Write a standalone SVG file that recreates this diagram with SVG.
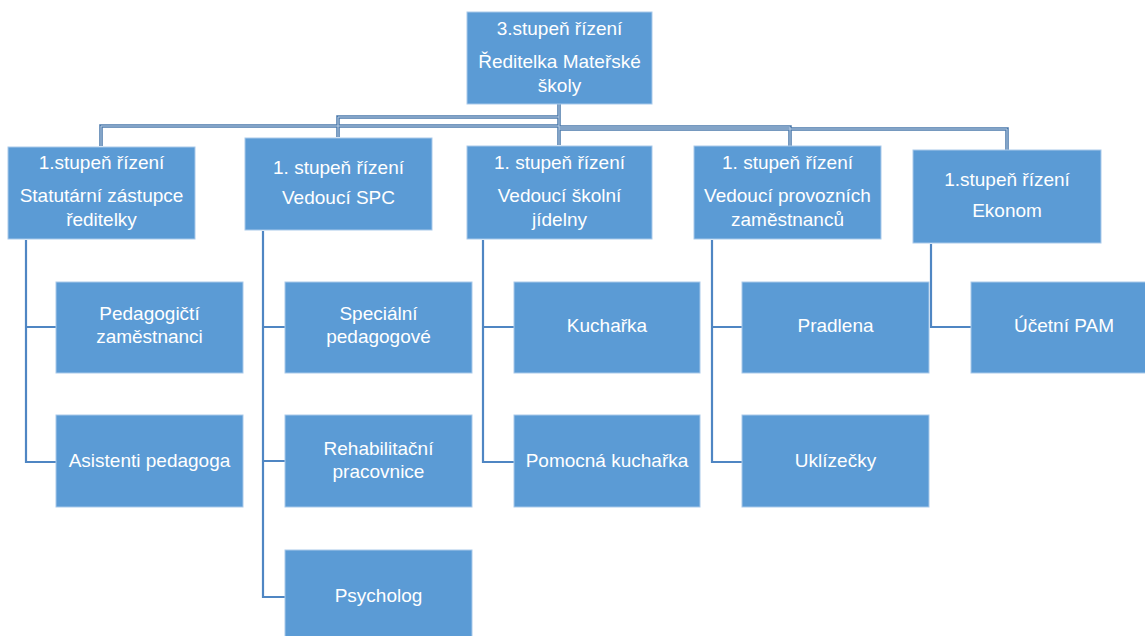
<svg xmlns="http://www.w3.org/2000/svg" width="1145" height="636" viewBox="0 0 1145 636">
<style>
.box{fill:#5B9BD5;stroke:#A9C9EA;stroke-width:1}
.t{font-family:"Liberation Sans",Arial,sans-serif;font-size:19px;fill:#ffffff;text-anchor:middle}
.up{fill:none;stroke:#4A78AA;stroke-width:3.5}
.upi{fill:none;stroke:#BCD0E6;stroke-width:1}
.lo{fill:none;stroke:#4F86C3;stroke-width:2.2}
</style>
<rect width="1145" height="636" fill="#ffffff"/>
<g id="connectors">
<g class="up">
<path d="M559,104 V145"/>
<path d="M559,126 H101 V146"/>
<path d="M559,117 H338 V137"/>
<path d="M559,127 H790 V146"/>
<path d="M559,129 H1007 V150"/>
</g>
<g class="upi">
<path d="M559,126 H101 V146"/>
<path d="M559,117 H338 V137"/>
<path d="M559,127 H790 V146"/>
<path d="M559,129 H1007 V150"/>
<path d="M559,104 V145"/>
</g>
<g class="lo">
<path d="M26,240 V462 H56 M26,327 H56"/>
<path d="M263,231 V597 H285 M263,327 H285 M263,461 H285"/>
<path d="M483,240 V462 H514 M483,327 H514"/>
<path d="M712,240 V462 H742 M712,327 H742"/>
<path d="M931,244 V327 H971"/>
</g>
</g>
<g id="n-reditelka"><rect class="box" x="467" y="12" width="185" height="92"/>
<text class="t" x="559.5" y="35">3.stupeň řízení</text><text class="t" x="559.5" y="68">Ředitelka Mateřské</text><text class="t" x="559.5" y="92">školy</text></g>
<g id="n-statutarni"><rect class="box" x="8" y="147" width="187" height="92"/>
<text class="t" x="101.5" y="169">1.stupeň řízení</text><text class="t" x="101.5" y="202">Statutární zástupce</text><text class="t" x="101.5" y="226">ředitelky</text></g>
<g id="n-spc"><rect class="box" x="245" y="138" width="187" height="92"/>
<text class="t" x="338.5" y="174">1. stupeň řízení</text><text class="t" x="338.5" y="204">Vedoucí SPC</text></g>
<g id="n-jidelna"><rect class="box" x="467" y="146" width="185" height="93"/>
<text class="t" x="559.5" y="169">1. stupeň řízení</text><text class="t" x="559.5" y="202">Vedoucí školní</text><text class="t" x="559.5" y="226">jídelny</text></g>
<g id="n-provozni"><rect class="box" x="694" y="146" width="187" height="93"/>
<text class="t" x="787.5" y="169">1. stupeň řízení</text><text class="t" x="787.5" y="202">Vedoucí provozních</text><text class="t" x="787.5" y="226">zaměstnanců</text></g>
<g id="n-ekonom"><rect class="box" x="913" y="150" width="188" height="93"/>
<text class="t" x="1007" y="186">1.stupeň řízení</text><text class="t" x="1007" y="217">Ekonom</text></g>
<g id="n-pedagogicti"><rect class="box" x="56" y="282" width="187" height="91"/>
<text class="t" x="149.5" y="320">Pedagogičtí</text><text class="t" x="149.5" y="343">zaměstnanci</text></g>
<g id="n-asistenti"><rect class="box" x="56" y="415" width="187" height="92"/>
<text class="t" x="149.5" y="467">Asistenti pedagoga</text></g>
<g id="n-specialni"><rect class="box" x="285" y="282" width="187" height="91"/>
<text class="t" x="378.5" y="320">Speciální</text><text class="t" x="378.5" y="343">pedagogové</text></g>
<g id="n-rehabilitacni"><rect class="box" x="285" y="415" width="187" height="92"/>
<text class="t" x="378.5" y="455">Rehabilitační</text><text class="t" x="378.5" y="478">pracovnice</text></g>
<g id="n-psycholog"><rect class="box" x="285" y="550" width="187" height="92"/>
<text class="t" x="378.5" y="602">Psycholog</text></g>
<g id="n-kucharka"><rect class="box" x="514" y="282" width="186" height="91"/>
<text class="t" x="607" y="332">Kuchařka</text></g>
<g id="n-pomocna"><rect class="box" x="514" y="415" width="186" height="92"/>
<text class="t" x="607" y="467">Pomocná kuchařka</text></g>
<g id="n-pradlena"><rect class="box" x="742" y="282" width="187" height="91"/>
<text class="t" x="835.5" y="332">Pradlena</text></g>
<g id="n-uklizecky"><rect class="box" x="742" y="415" width="187" height="92"/>
<text class="t" x="835.5" y="467">Uklízečky</text></g>
<g id="n-ucetni"><rect class="box" x="971" y="282" width="187" height="91"/>
<text class="t" x="1064" y="332">Účetní PAM</text></g>
</svg>
